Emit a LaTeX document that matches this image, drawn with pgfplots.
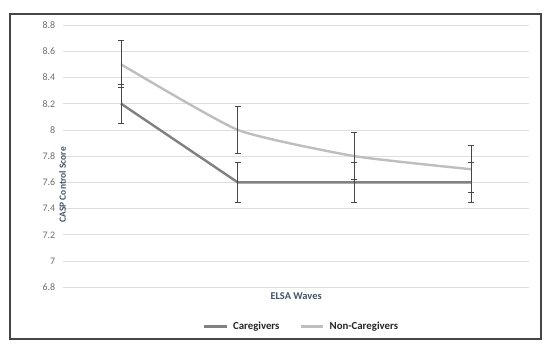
\documentclass[border=0pt]{standalone}
\usepackage{pgfplots}
\pgfplotsset{compat=1.18}
\usepackage{fontspec}
\setmainfont{Carlito}
\definecolor{cg}{RGB}{128,128,128}
\definecolor{ncg}{RGB}{190,190,190}
\definecolor{errc}{RGB}{70,70,70}
\definecolor{gridc}{RGB}{222,222,222}
\definecolor{labc}{RGB}{68,84,106}
\definecolor{tickc}{RGB}{110,110,110}
\definecolor{borderc}{RGB}{70,70,70}
\begin{document}
\begin{tikzpicture}
\useasboundingbox (-62.7pt,-64.7pt) rectangle (487.3pt,287.3pt);
\fill[white] (-62.7pt,-64.7pt) rectangle (487.3pt,287.3pt);
\begin{axis}[
  at={(0,0)}, anchor=south west,
  scale only axis, width=466.8pt, height=262.3pt,
  xmin=-0.5, xmax=3.5, ymin=6.8, ymax=8.8,
  xtick=\empty,
  ytick={6.8,7,7.2,7.4,7.6,7.8,8,8.2,8.4,8.6,8.8},
  yticklabels={6.8,7,7.2,7.4,7.6,7.8,8,8.2,8.4,8.6,8.8},
  yticklabel style={font=\fontsize{10}{12}\selectfont, text=tickc, xshift=-4pt},
  /pgf/number format/assume math mode=true,
  ymajorgrids, grid style={gridc, line width=0.8pt},
  axis line style={draw=none},
  major tick length=0pt,
  ylabel={\textbf{CASP Control Score}},
  ylabel style={at={(axis description cs:0,0.5)}, xshift=-28.7pt, anchor=center, font=\fontsize{9.5}{11}\selectfont, text=labc},
  xlabel={\textbf{ELSA Waves}},
  xlabel style={at={(axis description cs:0.5,0)}, yshift=-8.7pt, anchor=center, font=\fontsize{10.4}{12}\selectfont, text=labc},
  legend columns=2,
  legend style={draw=none, at={(axis description cs:0.5116,-0.150)}, anchor=center,
    font=\fontsize{10.8}{12}\selectfont\bfseries, text=black!85,
    /tikz/every odd column/.append style={column sep=3pt},
    /tikz/every even column/.append style={column sep=18pt}},
  legend image code/.code={\draw[#1] (0cm,0cm) -- (0.8cm,0cm);},
  clip=false,
]
\addplot[cg, line width=2.4pt, no marks,
  error bars/.cd, y dir=both, y explicit,
  error bar style={errc, line width=0.9pt},
  error mark options={rotate=90, mark size=3pt, errc, line width=0.9pt}]
  coordinates {
  (0,8.2) +- (0,0.15)
  (1,7.6) +- (0,0.15)
  (2,7.6) +- (0,0.15)
  (3,7.6) +- (0,0.15)
  };
\addlegendentry{Caregivers}
\addplot[ncg, line width=2.4pt, no marks, smooth, tension=0.3,
  error bars/.cd, y dir=both, y explicit,
  error bar style={errc, line width=0.9pt},
  error mark options={rotate=90, mark size=3pt, errc, line width=0.9pt}]
  coordinates {
  (0,8.5) +- (0,0.18)
  (1,8.0) +- (0,0.18)
  (2,7.8) +- (0,0.18)
  (3,7.7) +- (0,0.18)
  };
\addlegendentry{Non-Caregivers}
\end{axis}
\draw[borderc, line width=1.3pt] (-52.7pt,-51.7pt) rectangle (478.3pt,273.3pt);
\end{tikzpicture}
\end{document}
